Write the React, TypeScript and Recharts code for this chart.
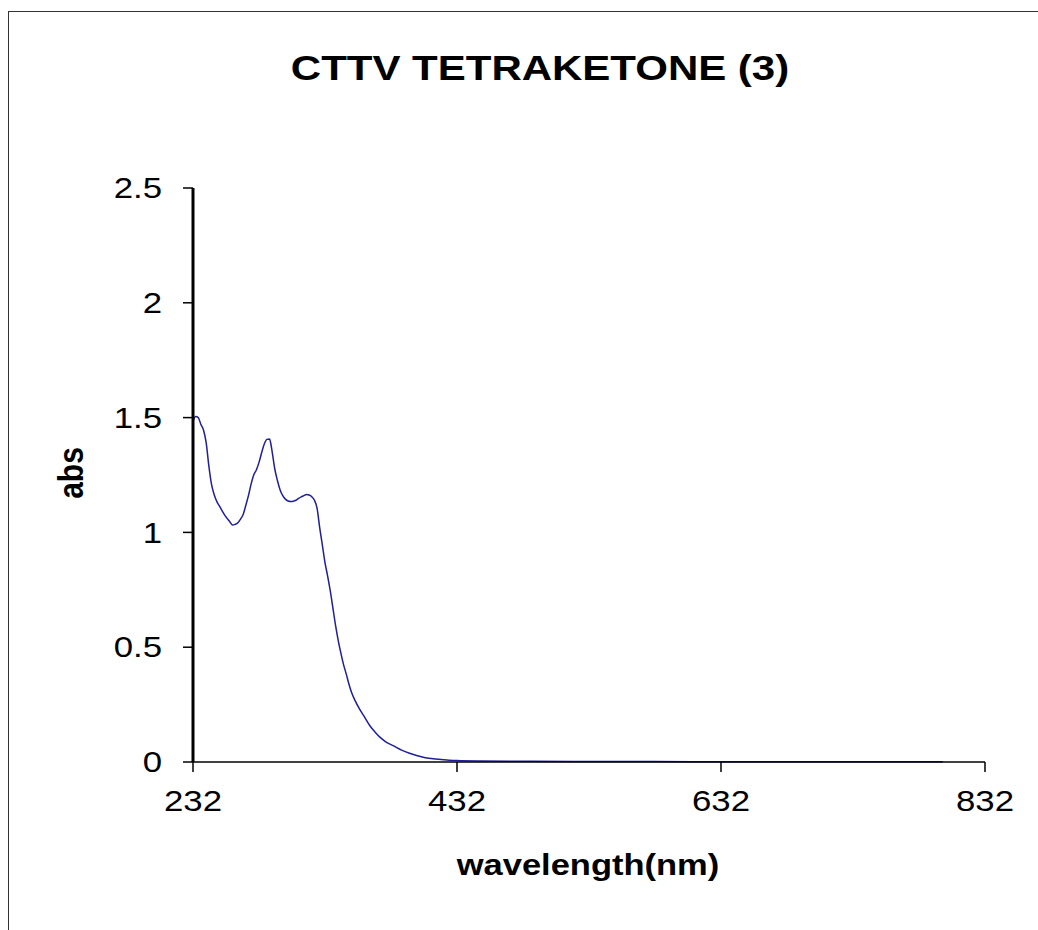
import { Line, LineChart, XAxis, YAxis } from 'recharts'

const wavelength = [
  232, 234, 236, 238, 240, 242, 244, 246, 248, 250, 252, 254, 256, 258, 260, 262, 264, 266, 268, 270,
  272, 274, 276, 278, 280, 282, 284, 286, 288, 290, 291, 292, 294, 296, 298, 300, 302, 304, 306, 308,
  310, 312, 314, 316, 318, 320, 322, 324, 326, 328, 330, 332, 334, 336, 338, 340, 342, 344, 346, 348,
  350, 352, 355, 358, 362, 366, 370, 374, 378, 384, 390, 396, 402, 408, 414, 420, 426, 432, 450, 480,
  520, 580, 640, 700, 760, 800,
]

const absorbance = [
  1.484, 1.505, 1.5, 1.47, 1.445, 1.39, 1.29, 1.21, 1.165, 1.135, 1.115, 1.095, 1.075, 1.06, 1.045, 1.032, 1.035, 1.042, 1.058, 1.078,
  1.118, 1.16, 1.21, 1.25, 1.272, 1.305, 1.347, 1.385, 1.405, 1.407, 1.385, 1.35, 1.275, 1.225, 1.185, 1.16, 1.145, 1.137, 1.135, 1.136,
  1.14, 1.148, 1.155, 1.16, 1.165, 1.163, 1.155, 1.14, 1.105, 1.02, 0.945, 0.868, 0.81, 0.745, 0.67, 0.595, 0.53, 0.475, 0.425, 0.385,
  0.342, 0.305, 0.265, 0.232, 0.195, 0.158, 0.13, 0.106, 0.088, 0.07, 0.052, 0.038, 0.027, 0.019, 0.014, 0.011, 0.008, 0.006, 0.004, 0.003,
  0.002, 0.002, 0.001, 0.001, 0.001, 0.001,
]

const xTicks = [232, 432, 632, 832]
const yTicks = [0, 0.5, 1, 1.5, 2, 2.5]

const data = wavelength.map((nm, i) => ({ nm, abs: absorbance[i] }))

const FONT = '"Liberation Sans", Arial, sans-serif'

// the original image is stretched sideways, so text gets a small x-scale
function XTick({ x, y, payload }: any) {
  return (
    <text transform={`translate(${x},${y}) scale(1.2,1)`} textAnchor="middle" dy="0.71em" fontSize={29} fontFamily={FONT} fill="#000">
      {payload.value}
    </text>
  )
}

function YTick({ x, y, payload }: any) {
  return (
    <text transform={`translate(${x},${y}) scale(1.2,1)`} textAnchor="end" dy="0.35em" fontSize={29} fontFamily={FONT} fill="#000">
      {payload.value}
    </text>
  )
}

export default function App() {
  return (
    <div style={{ position: 'absolute', left: 0, top: 0, width: 1038, height: 930, background: '#fff' }}>
      <LineChart width={1038} height={930} data={data} margin={{ top: 188, right: 53, left: 0, bottom: 0 }}>
        <XAxis
          dataKey="nm"
          type="number"
          domain={[232, 832]}
          ticks={xTicks}
          height={168}
          tickSize={10}
          tickMargin={18}
          tick={<XTick />}
          axisLine={{ stroke: '#000', strokeWidth: 1.5 }}
          tickLine={{ stroke: '#000', strokeWidth: 1.5 }}
        />
        <YAxis
          type="number"
          domain={[0, 2.5]}
          ticks={yTicks}
          width={193}
          tickSize={10}
          tickMargin={21}
          tick={<YTick />}
          axisLine={{ stroke: '#000', strokeWidth: 3 }}
          tickLine={{ stroke: '#000', strokeWidth: 1.5 }}
        />
        <Line
          dataKey="abs"
          type="monotone"
          stroke="#1f1f99"
          strokeWidth={1.5}
          dot={false}
          isAnimationActive={false}
        />
      </LineChart>
      <svg width={1038} height={930} style={{ position: 'absolute', left: 0, top: 0, pointerEvents: 'none' }}>
        <rect x={8.5} y={11.5} width={1040} height={1000} fill="none" stroke="#333" strokeWidth={1} />
        <text transform="translate(540,80) scale(1.2,1)" textAnchor="middle" fontSize={35} fontWeight="bold" fontFamily={FONT}>
          CTTV TETRAKETONE (3)
        </text>
        <text transform="translate(588,875) scale(1.15,1)" textAnchor="middle" fontSize={30} fontWeight="bold" fontFamily={FONT}>
          wavelength(nm)
        </text>
        <text transform="translate(83,473) scale(1.15,1) rotate(-90)" textAnchor="middle" fontSize={30} fontWeight="bold" fontFamily={FONT}>
          abs
        </text>
      </svg>
    </div>
  )
}
